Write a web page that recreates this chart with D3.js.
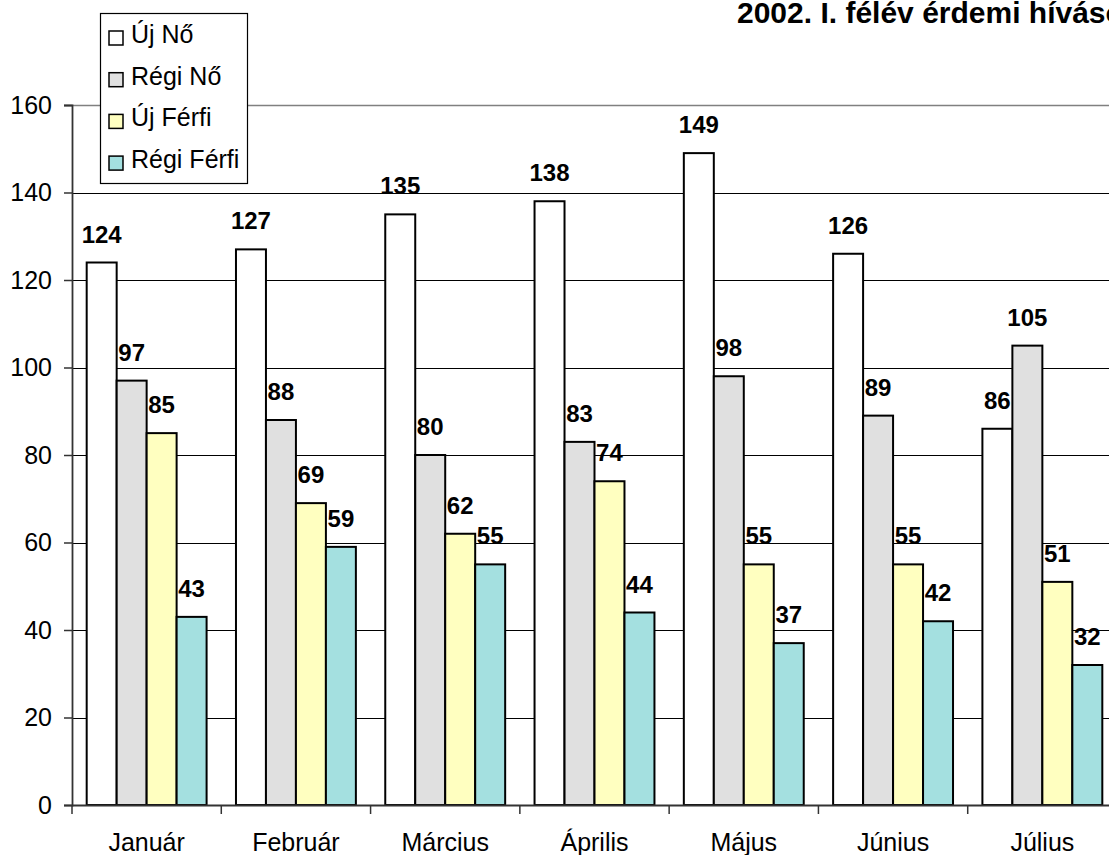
<!DOCTYPE html>
<html>
<head>
<meta charset="utf-8">
<script src="https://cdn.jsdelivr.net/npm/d3@7"></script>
<style>
  html, body { margin: 0; padding: 0; background: #fff; }
  svg { display: block; font-family: "Liberation Sans", Arial, sans-serif; }
</style>
</head>
<body>
<svg id="chart" width="1109" height="855"></svg>
<script>
// Monthly calls, first half of 2002
const months = ["Január", "Február", "Március", "Április", "Május", "Június", "Július"];
const seriesNames = ["Új Nő", "Régi Nő", "Új Férfi", "Régi Férfi"];
const ujNo      = [124, 127, 135, 138, 149, 126, 86];
const regiNo    = [97, 88, 80, 83, 98, 89, 105];
const ujFerfi   = [85, 69, 62, 74, 55, 55, 51];
const regiFerfi = [43, 59, 55, 44, 37, 42, 32];
const yTicks = [0, 20, 40, 60, 80, 100, 120, 140, 160];
const colors = ["#ffffff", "#e0e0e0", "#ffffc0", "#a4e0e0"];
const titleText = "2002. I. félév érdemi hívások";

const seriesValues = [ujNo, regiNo, ujFerfi, regiFerfi];

const svg = d3.select("#chart");
const plotLeft = 72, plotRight = 1117, plotTop = 105, plotBottom = 805;

const x = d3.scaleBand().domain(months).range([plotLeft, plotRight]).paddingInner(0).paddingOuter(0);
const xs = d3.scaleBand().domain(seriesNames).range([0, x.bandwidth()]).paddingInner(0).paddingOuter(0.49);
const y = d3.scaleLinear().domain([0, 160]).range([plotBottom, plotTop]);

// horizontal gridlines
svg.append("g").selectAll("line")
  .data(yTicks.filter(t => t > 0 && t < 160))
  .join("line")
  .attr("x1", plotLeft).attr("x2", 1109)
  .attr("y1", d => Math.round(y(d)) + 0.5).attr("y2", d => Math.round(y(d)) + 0.5)
  .attr("stroke", "#000").attr("stroke-width", 1);

// top border of plot area
svg.append("line")
  .attr("x1", plotLeft).attr("x2", 1109)
  .attr("y1", y(160) + 0.5).attr("y2", y(160) + 0.5)
  .attr("stroke", "#808080").attr("stroke-width", 1.5);

// bars
const groups = svg.append("g").selectAll("g")
  .data(months)
  .join("g")
  .attr("transform", d => `translate(${x(d)},0)`);

groups.each(function(m, i) {
  const g = d3.select(this);
  seriesNames.forEach((s, j) => {
    const v = seriesValues[j][i];
    g.append("rect")
      .attr("x", xs(s))
      .attr("y", y(v))
      .attr("width", xs.bandwidth())
      .attr("height", y(0) - y(v))
      .attr("fill", colors[j])
      .attr("stroke", "#000")
      .attr("stroke-width", 2);
    g.append("text")
      .attr("x", xs(s) + xs.bandwidth() / 2)
      .attr("y", y(v) - 20)
      .attr("text-anchor", "middle")
      .attr("font-size", 24)
      .attr("font-weight", "bold")
      .attr("fill", "#000")
      .text(v);
  });
});

// y axis
const yAxis = d3.axisLeft(y).tickValues(yTicks).tickSize(8).tickPadding(12);
const gy = svg.append("g").attr("transform", `translate(${plotLeft},0)`).call(yAxis);
gy.attr("font-size", null).attr("font-family", null);
gy.select(".domain").attr("stroke", "#333").attr("stroke-width", 1.8);
gy.selectAll(".tick line").attr("stroke", "#333").attr("stroke-width", 1.5);
gy.selectAll(".tick text").attr("font-size", 25).attr("fill", "#000");

// x axis with ticks at category boundaries
const gx = svg.append("g").attr("transform", `translate(0,${plotBottom})`);
gx.append("line").attr("x1", plotLeft).attr("x2", 1109).attr("y1", 0.5).attr("y2", 0.5)
  .attr("stroke", "#333").attr("stroke-width", 1.8);
gx.selectAll("line.tk")
  .data(months.map(m => x(m)).concat([plotRight]))
  .join("line")
  .attr("class", "tk")
  .attr("x1", d => d).attr("x2", d => d)
  .attr("y1", 0).attr("y2", 9)
  .attr("stroke", "#333").attr("stroke-width", 1.5);
gx.selectAll("text")
  .data(months)
  .join("text")
  .attr("x", d => x(d) + x.bandwidth() / 2)
  .attr("y", 46)
  .attr("text-anchor", "middle")
  .attr("font-size", 25)
  .attr("fill", "#000")
  .text(d => d);

// title
svg.append("text")
  .attr("x", 737).attr("y", 23)
  .attr("font-size", 30)
  .attr("font-weight", "bold")
  .attr("fill", "#000")
  .text(titleText);

// legend
const lg = svg.append("g").attr("transform", "translate(100,13)");
lg.append("rect").attr("x", 0.5).attr("y", 0.5).attr("width", 147).attr("height", 170)
  .attr("fill", "#fff").attr("stroke", "#000").attr("stroke-width", 1.2);
const item = lg.selectAll("g.item").data(seriesNames).join("g")
  .attr("class", "item")
  .attr("transform", (d, i) => `translate(0,${30 + i * 41.7})`);
item.append("rect")
  .attr("x", 9).attr("y", -12).attr("width", 14).attr("height", 14)
  .attr("fill", (d, i) => colors[i]).attr("stroke", "#000").attr("stroke-width", 1.5);
item.append("text")
  .attr("x", 31).attr("y", 0)
  .attr("font-size", 25)
  .attr("fill", "#000")
  .text(d => d);
</script>
</body>
</html>
